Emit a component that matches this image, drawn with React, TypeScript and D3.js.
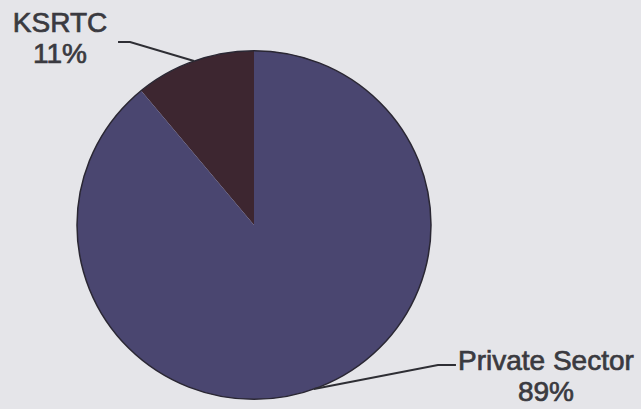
import { useRef, useEffect } from 'react';
import * as d3 from 'd3';

const categories = ['KSRTC', 'Private Sector'];
const shares = [11, 89];
const sliceColors = ['#3d2630', '#4a4670'];

export default function App() {
  const svgRef = useRef<SVGSVGElement>(null);
  const width = 641;
  const height = 409;

  useEffect(() => {
    if (!svgRef.current) return;
    const svg = d3.select(svgRef.current);
    svg.selectAll('*').remove();

    svg.append('rect')
      .attr('width', width)
      .attr('height', height)
      .attr('fill', '#e5e5e9');

    const cx = 254;
    const cy = 225;
    const radius = 177;

    const data = categories.map((name, i) => ({ name, value: shares[i] }));

    // KSRTC sits just left of 12 o'clock, so start the pie at -11%
    const startAngle = -2 * Math.PI * shares[0] / 100;
    const pie = d3.pie<{ name: string; value: number }>()
      .value(d => d.value)
      .sort(null)
      .startAngle(startAngle)
      .endAngle(startAngle + 2 * Math.PI);

    const arcs = pie(data);
    const arc = d3.arc<d3.PieArcDatum<{ name: string; value: number }>>()
      .innerRadius(0)
      .outerRadius(radius);

    const g = svg.append('g')
      .attr('transform', `translate(${cx},${cy}) scale(1,0.985)`);

    g.selectAll('path.slice')
      .data(arcs)
      .join('path')
      .attr('class', 'slice')
      .attr('d', arc)
      .attr('fill', (_, i) => sliceColors[i]);

    // dark rim around the whole pie
    g.append('circle')
      .attr('r', radius)
      .attr('fill', 'none')
      .attr('stroke', '#2a2733')
      .attr('stroke-width', 1.5);

    // label layout: leader line from the rim to the text
    const labelOffsets = [
      { dx: -134, dy: -29, bend: [-64, -19], anchor: 'middle' },
      { dx: 232, dy: -19, bend: [124, -24], anchor: 'middle' }
    ];

    arcs.forEach((a, i) => {
      const mid = (a.startAngle + a.endAngle) / 2;
      const ex = cx + radius * Math.sin(mid);
      const ey = cy - radius * 0.985 * Math.cos(mid);
      const o = labelOffsets[i];
      const bx = ex + o.bend[0];
      const by = ey + o.bend[1];
      const hx = i === 0 ? bx - 12 : bx + 18;

      svg.append('path')
        .attr('d', `M${ex},${ey} L${bx},${by} L${hx},${by}`)
        .attr('fill', 'none')
        .attr('stroke', '#2e2e34')
        .attr('stroke-width', 2);

      const tx = ex + o.dx;
      const ty = ey + o.dy;
      const label = svg.append('text')
        .attr('x', tx)
        .attr('y', ty)
        .attr('text-anchor', o.anchor)
        .attr('font-family', 'Liberation Sans, Arial, sans-serif')
        .attr('font-size', 28)
        .attr('fill', '#3a3a40')
        .attr('stroke', '#3a3a40')
        .attr('stroke-width', 0.7);
      label.append('tspan')
        .attr('x', tx)
        .text(a.data.name);
      label.append('tspan')
        .attr('x', tx)
        .attr('dy', 31)
        .text(`${a.data.value}%`);
    });
  }, []);

  return (
    <svg
      ref={svgRef}
      width={width}
      height={height}
      style={{ position: 'fixed', left: 0, top: 0 }}
    ></svg>
  );
}
